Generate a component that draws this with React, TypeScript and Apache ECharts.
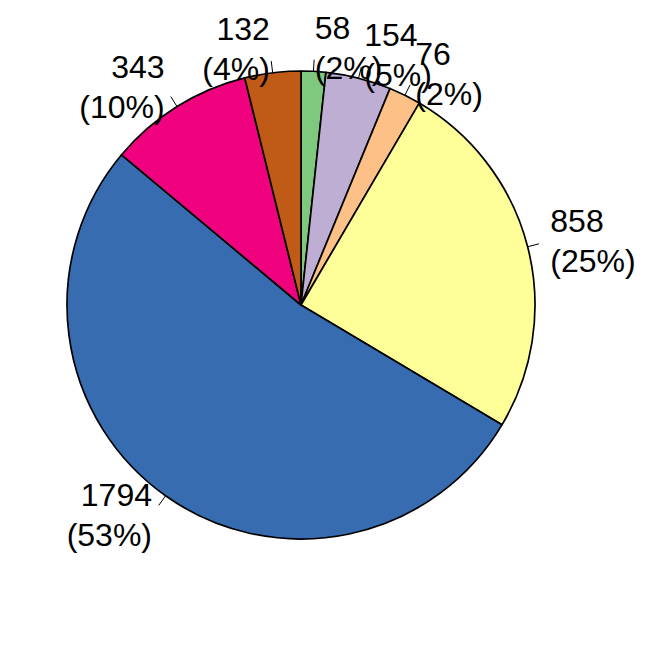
import React, { useEffect, useRef } from "react";
import * as echarts from "echarts";

const categories = ["A", "B", "C", "D", "E", "F", "G"];
const values = [58, 154, 76, 858, 1794, 343, 132];
const colors = ["#7FC97F", "#BEAED4", "#FDC086", "#FFFF99", "#386CB0", "#F0027F", "#BF5B17"];

const CX = 301;
const CY = 305;
const R = 234;

export default function App() {
  const ref = useRef<HTMLDivElement>(null);
  useEffect(() => {
    if (!ref.current) return;
    const chart = echarts.init(ref.current, null, { renderer: "svg" });
    const total = values.reduce((a, b) => a + b, 0);
    chart.setOption({
      animation: false,
      backgroundColor: "#ffffff",
      series: [
        {
          type: "pie",
          center: [CX, CY],
          radius: R,
          startAngle: 90,
          clockwise: true,
          avoidLabelOverlap: false,
          labelLayout: { hideOverlap: false, moveOverlap: null },
          percentPrecision: 4,
          emphasis: { disabled: true },
          data: categories.map((c, i) => ({
            name: c,
            value: values[i],
            itemStyle: { color: colors[i] },
          })),
          itemStyle: { borderColor: "#000000", borderWidth: 1.7 },
          label: {
            show: true,
            position: "outside",
            color: "#000000",
            fontFamily: "Liberation Sans, Arial, Helvetica, sans-serif",
            fontSize: 32,
            lineHeight: 40,
            distanceToLabelLine: 0,
            formatter: (p: any) =>
              `${p.value}\n(${Math.round((100 * p.value) / total)}%)`,
          },
          labelLine: {
            show: true,
            length: R * 0.1,
            length2: 0,
            smooth: false,
            lineStyle: { color: "#000000", width: 1, type: [R * 0.05, 2000] },
          },
        },
      ],
    });
    return () => chart.dispose();
  }, []);
  return (
    <div
      ref={ref}
      style={{ position: "fixed", left: 0, top: 0, width: 650, height: 650 }}
    />
  );
}
